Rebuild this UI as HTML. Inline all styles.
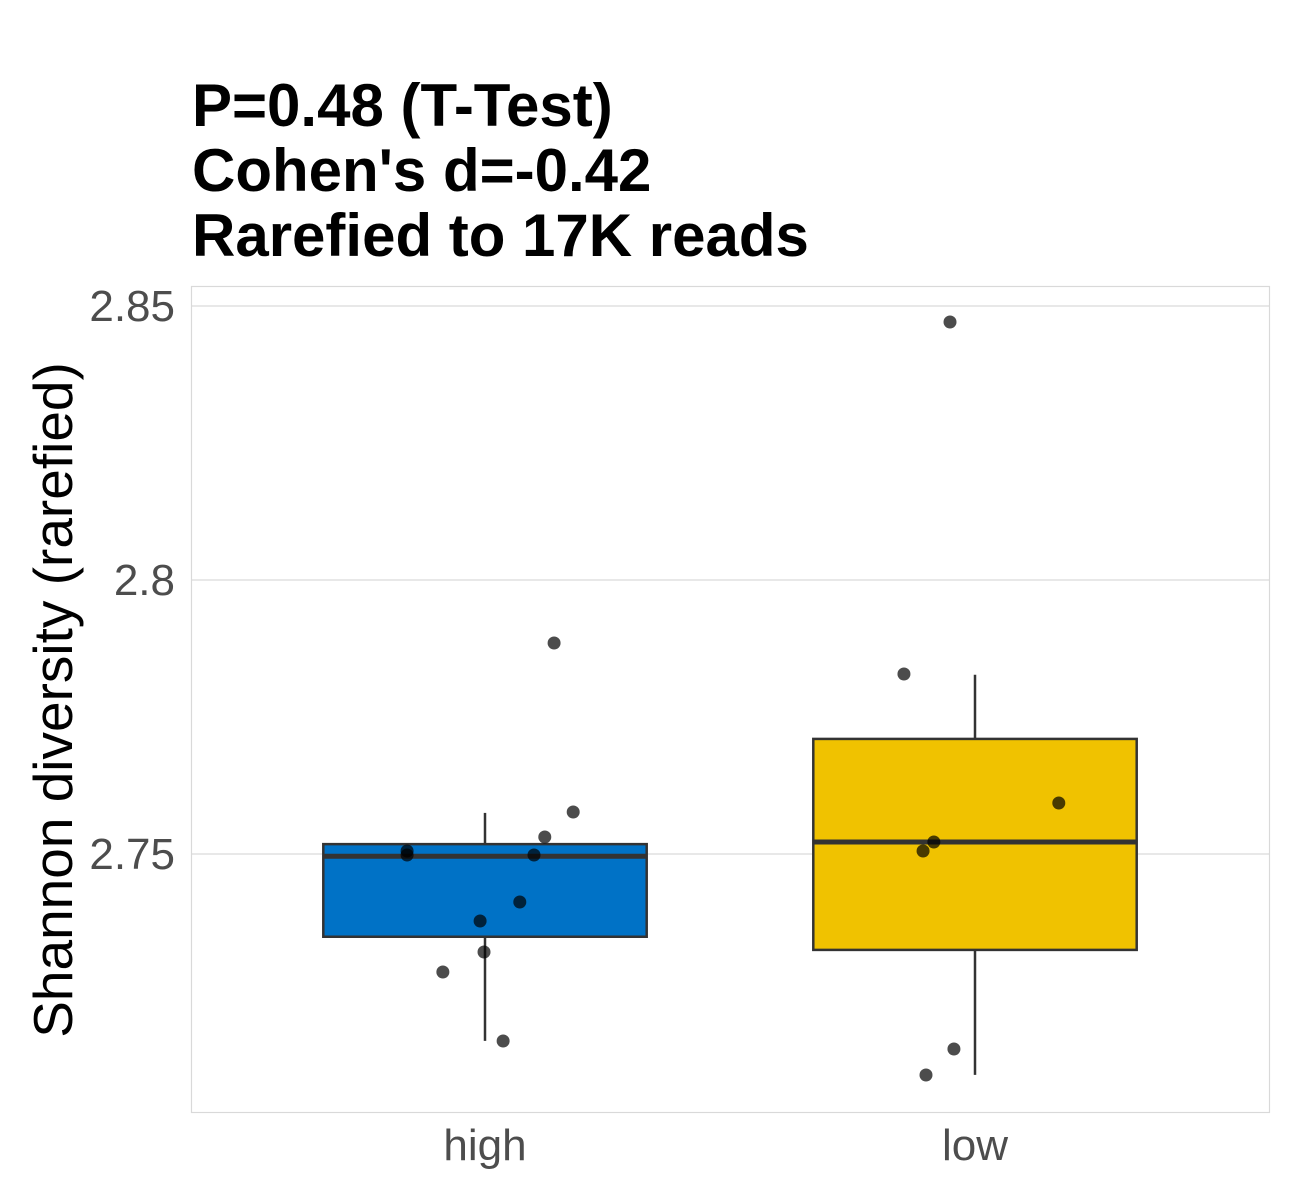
<!DOCTYPE html>
<html><head><meta charset="utf-8"><style>
html,body{margin:0;padding:0;background:#fff;}
svg{display:block;font-family:"Liberation Sans",Arial,sans-serif;}
</style></head><body>
<svg id="chart" width="1300" height="1200" viewBox="0 0 1300 1200">
<g font-weight="bold" font-size="60" fill="#000">
<text x="192" y="126">P=0.48 (T-Test)</text>
<text x="192" y="191">Cohen's d=-0.42</text>
<text x="192" y="256">Rarefied to 17K reads</text>
</g>
<rect x="191.5" y="286.5" width="1078" height="826" fill="#fff" stroke="#d9d9d9" stroke-width="1.2"/>
<g id="grid"></g><g id="boxes"></g><g id="points"></g><g id="axes"></g>
<text transform="translate(72,700) rotate(-90)" text-anchor="middle" font-size="55" fill="#000">Shannon diversity (rarefied)</text>
</svg>
<script>
const categories=["high","low"];
const colors=["#0072c6","#f0c200"];
const yTicks=[2.75,2.8,2.85];
const yTickLabels=["2.75","2.8","2.85"];
const q1=[2.7349,2.7325];
const medians=[2.7496,2.7522];
const q3=[2.7518,2.7710];
const whiskLow=[2.7159,2.7097];
const whiskHigh=[2.7575,2.7827];
const highValues=[2.75055,2.74982,2.78850,2.75766,2.75310,2.74982,2.74124,2.73777,2.73212,2.72847,2.71588];
const highJitter=[-0.159,-0.159,0.141,0.180,0.122,0.100,0.071,-0.010,-0.002,-0.086,0.037];
const lowValues=[2.84708,2.78285,2.75931,2.75219,2.75055,2.71442,2.70967];
const lowJitter=[-0.051,-0.145,0.171,-0.084,-0.106,-0.043,-0.100];
const NS="http://www.w3.org/2000/svg";
function y(v){return 580-(v-2.8)*5480;}
function x(i){return 485+i*490;}
const bw=0.66*490;
function mk(t,a,p){const e=document.createElementNS(NS,t);for(const k in a)e.setAttribute(k,a[k]);p.appendChild(e);return e;}
const G=document.getElementById('grid'),B=document.getElementById('boxes'),P=document.getElementById('points'),A=document.getElementById('axes');
yTicks.forEach((t,i)=>{
 const l=mk('line',{x1:191.5,x2:1269.5,y1:y(t),y2:y(t),stroke:'#d9d9d9','stroke-width':1.2},G);
 
 
 const tx=mk('text',{x:175,y:y(t)+15,'text-anchor':'end','font-size':44,fill:'#4d4d4d'},A);
 tx.textContent=yTickLabels[i];
 
 
});
categories.forEach((c,i)=>{
 const cx=x(i);
 const g=mk('g',{},B);
 
 
 mk('line',{x1:cx,x2:cx,y1:y(whiskHigh[i]),y2:y(q3[i]),stroke:'#333','stroke-width':2.5},g);
 mk('line',{x1:cx,x2:cx,y1:y(q1[i]),y2:y(whiskLow[i]),stroke:'#333','stroke-width':2.5},g);
 mk('rect',{x:cx-bw/2,y:y(q3[i]),width:bw,height:y(q1[i])-y(q3[i]),fill:colors[i],stroke:'#333','stroke-width':2.5},g);
 mk('line',{x1:cx-bw/2,x2:cx+bw/2,y1:y(medians[i]),y2:y(medians[i]),stroke:'#333','stroke-width':5},g);
 const tx=mk('text',{x:cx,y:1160,'text-anchor':'middle','font-size':44,fill:'#4d4d4d'},A);
 tx.textContent=c;
 
 
});
[[highValues,highJitter,0],[lowValues,lowJitter,1]].forEach(([vals,jit,i])=>{
 vals.forEach((v,k)=>{
  const d=mk('circle',{cx:x(i)+jit[k]*490,cy:y(v),r:6.5,fill:'#000','fill-opacity':0.7},P);
  
  
 });
});
</script>
</body></html>
